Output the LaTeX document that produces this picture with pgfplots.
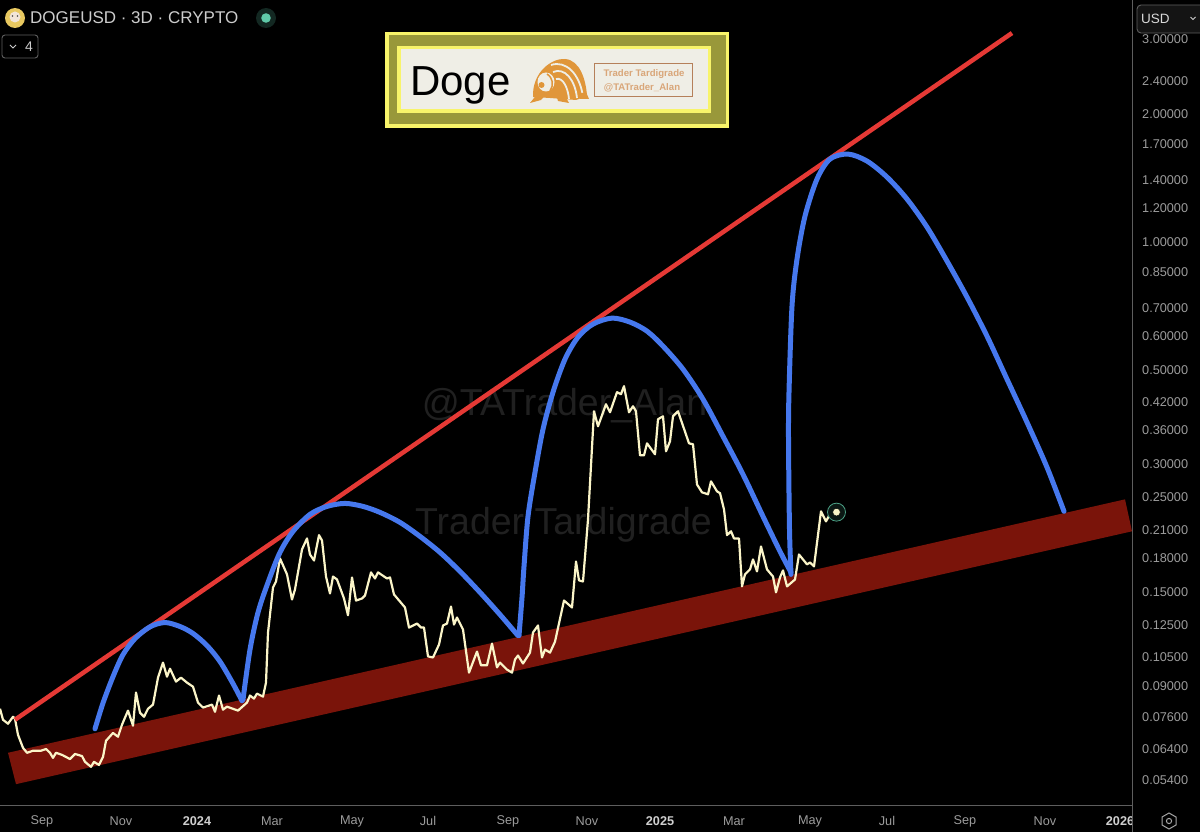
\documentclass[border=0pt]{standalone}
\usepackage{fontspec}
\setmainfont{Liberation Sans}
\usepackage{pgfplots}
\pgfplotsset{compat=1.18}
\definecolor{band}{HTML}{7A140A}
\definecolor{redl}{HTML}{E53935}
\definecolor{bluel}{HTML}{4678EE}
\definecolor{cream}{HTML}{FBF5C8}
\definecolor{tick}{HTML}{9C9C9C}
\definecolor{tickb}{HTML}{CFCFCF}
\definecolor{spine}{HTML}{5E5E5E}
\definecolor{wm}{HTML}{202020}
\definecolor{ylw}{HTML}{F8F46A}
\definecolor{olive}{HTML}{99983A}
\definecolor{paper}{HTML}{EFEEE6}
\definecolor{tard}{HTML}{E0963A}
\definecolor{tardb}{HTML}{B5805A}
\definecolor{tardt}{HTML}{D9A679}
\definecolor{teal}{HTML}{5FC9A8}
\definecolor{coin}{HTML}{E8C860}
\newcommand{\fs}[1]{\fontsize{#1}{#1}\selectfont}
\begin{document}
\begin{tikzpicture}[x=1pt,y=-1pt]
\useasboundingbox (0,0) rectangle (1200,832);
\fill[black] (0,0) rectangle (1200,832);
% watermarks
\node[text=wm,anchor=center,inner sep=0] at (564.5,406) {\fs{37.5}@TATrader\_Alan};
\node[text=wm,anchor=center,inner sep=0] at (563.5,525) {\fs{37.5}Trader Tardigrade};
\begin{axis}[
  at={(0pt,-805pt)},anchor=south west,
  scale only axis,width=1132pt,height=805pt,
  xmin=0,xmax=1132,ymin=0.04715,ymax=3.719,
  ymode=log,
  axis x line*=bottom,axis y line*=right,
  axis line style={-,color=spine,line width=1pt},
  major tick length=0pt,minor tick length=0pt,
  xtick={42,121,197,272,352,428,508,587,660,734,810,887,965,1045,1120},
  xticklabels={Sep,Nov,{\textcolor{tickb}{\bfseries 2024}},Mar,May,Jul,Sep,Nov,{\textcolor{tickb}{\bfseries 2025}},Mar,May,Jul,Sep,Nov,{\textcolor{tickb}{\bfseries 2026}}},
  ytick={0.054,0.064,0.076,0.09,0.105,0.125,0.15,0.18,0.21,0.25,0.3,0.36,0.42,0.5,0.6,0.7,0.85,1,1.2,1.4,1.7,2,2.4,3},
  yticklabels={0.05400,0.06400,0.07600,0.09000,0.10500,0.12500,0.15000,0.18000,0.21000,0.25000,0.30000,0.36000,0.42000,0.50000,0.60000,0.70000,0.85000,1.00000,1.20000,1.40000,1.70000,2.00000,2.40000,3.00000},
  yticklabel pos=right,
  x tick label style={text=tick,font=\fs{12.7},inner sep=0pt,anchor=center,yshift=-16pt},
  y tick label style={text=tick,font=\fs{12.7},inner sep=0pt,anchor=west,xshift=10pt},
  clip=true,
  axis on top=false,
]
% support band
\addplot[fill=band,draw=none] coordinates {(8,0.0626)(16,0.0528)(1132,0.2082)(1125,0.2476)} -- cycle;
% price
\addplot[cream,line width=2.2pt,line join=round] coordinates {
(0,.0795)(3,.0749)(8,.0733)(13,.0761)(15,.0753)(18,.0690)(23,.0643)(27,.0626)(33,.0633)(41,.0633)(46,.0639)(50,.0626)(53,.0609)(56,.0626)(62,.0619)(70,.0605)(75,.0622)(82,.0615)(85,.0596)(91,.0580)(94,.0596)(99,.0586)(103,.0612)(106,.0668)(113,.0697)(118,.0683)(122,.0729)(128,.0787)(133,.0725)(136,.0868)(140,.0778)(144,.0761)(148,.0795)(153,.0813)(158,.0941)(163,.1021)(167,.0946)(170,.0988)(176,.0921)(181,.0941)(187,.0916)(193,.0896)(198,.0822)(203,.0800)(212,.0813)(215,.0782)(219,.0854)(223,.0791)(227,.0804)(238,.0787)(247,.0822)(250,.0854)(254,.0840)(257,.0863)(263,.0849)(266,.0916)(268,.1202)(273,.1535)(276,.1586)(280,.1797)(287,.1648)(292,.1438)(295,.1519)(302,.1887)(307,.2003)(310,.1836)(314,.1777)(319,.2039)(322,.1981)(326,.1629)(330,.1486)(333,.1629)(337,.1603)(344,.1446)(348,.1320)(352,.1621)(356,.1430)(362,.1446)(365,.1470)(371,.1666)(375,.1612)(378,.1666)(387,.1612)(390,.1621)(394,.1478)(405,.1377)(409,.1235)(417,.1262)(421,.1235)(424,.1235)(428,.1056)(433,.1050)(439,.1126)(443,.1249)(447,.1262)(451,.1384)(454,.1255)(457,.1304)(463,.1222)(469,.0967)(477,.1084)(481,.1006)(487,.1006)(492,.1132)(497,.0995)(500,.1021)(507,.0983)(512,.0967)(515,.1038)(518,.1061)(523,.1016)(530,.1078)(533,.1202)(538,.1249)(542,.1050)(545,.1096)(550,.1078)(555,.1144)(564,.1430)(572,.1377)(576,.1767)(579,.1595)(583,.1586)(588,.2221)(594,.3993)(598,.3681)(606,.4148)(610,.3972)(617,.4429)(621,.4381)(624,.4575)(629,.3972)(633,.4103)(636,.3993)(640,.3144)(644,.3144)(647,.3356)(655,.3162)(658,.3824)(663,.3887)(666,.3214)(670,.3393)(673,.3887)(678,.3993)(689,.3356)(693,.3338)(697,.2684)(702,.2572)(708,.2545)(711,.2730)(717,.2586)(720,.2560)(724,.2345)(727,.2039)(731,.2082)(734,.2003)(739,.2003)(742,.1544)(745,.1648)(750,.1693)(753,.1787)(757,.1675)(761,.1918)(767,.1693)(773,.1629)(776,.1495)(780,.1621)(783,.1684)(787,.1544)(795,.1603)(799,.1836)(807,.1740)(810,.1758)(814,.1721)(821,.2320)(826,.2197)(832,.2332)(837,.2320)};
% resistance line
\addplot[redl,line width=4.5pt] coordinates {(15,.0749)(1012,3.109)};
% arcs
\addplot[bluel,line width=5pt,smooth,line cap=round] coordinates {(95,.0713)(103,.0820)(113,.0946)(123,.1066)(135,.1163)(150,.1240)(165,.1269)(180,.1242)(193,.1196)(207,.1120)(220,.1027)(233,.0911)(242,.0830)};
\addplot[bluel,line width=5pt,smooth,line cap=round] coordinates {(243,.0835)(250,.1096)(258,.1340)(268,.1577)(280,.1857)(293,.2081)(310,.2282)(327,.2383)(345,.2422)(363,.2383)(380,.2307)(400,.2185)(420,.2025)(440,.1857)(460,.1675)(480,.1495)(500,.1325)(518,.1182)};
\addplot[bluel,line width=5pt,smooth,line cap=round] coordinates {(519,.1182)(522,.1454)(524,.1721)(528,.2257)(535,.2867)(543,.3622)(553,.4429)(565,.5298)(578,.5970)(593,.6408)(612,.6620)(630,.6478)(647,.6168)(663,.5686)(683,.5018)(703,.4263)(723,.3486)(743,.2835)(763,.2257)(780,.1867)(791,.1666)};
\addplot[bluel,line width=5pt,smooth,line cap=round] coordinates {(791,.1648)(789.5,.2104)(788.5,.3430)(789,.4429)(792,.7065)(797,.9118)(805,1.1516)(817,1.4078)(830,1.5693)(848,1.6121)(867,1.5520)(887,1.4230)(907,1.2629)(927,1.0848)(947,.9020)(967,.7419)(987,.6003)(1007,.4752)(1027,.3762)(1047,.2946)(1064,.2320)};
% last price marker
\addplot[only marks,mark=*,mark size=9pt,mark options={fill=teal!12!black,draw=teal!80!black,line width=0.8pt}] coordinates {(836.5,.2310)};
\addplot[only marks,mark=*,mark size=3.8pt,mark options={fill=cream,draw=none}] coordinates {(836.5,.2310)};
\end{axis}
% cut of the time axis at the price scale
\fill[black] (1132.6,806) rectangle (1200,832);
\draw[spine,line width=1pt] (1132,0) -- (1132,832);
% header
\fill[coin] (15,18) circle (10);
\fill[white!80!brown] (15,17) circle (5.5);
\fill[black!70] (12.5,16) circle (0.9) (17.5,16) circle (0.9);
\node[anchor=west,inner sep=0,text=white!80!black] at (30,18) {\fs{17}DOGEUSD · 3D · CRYPTO};
\fill[teal!20!black] (266,18) circle (10);
\fill[teal] (266,18) circle (4.8);
\draw[spine,rounded corners=3pt,line width=0.9pt] (2,35) rectangle (38,58);
\draw[white!80!black,line width=1pt] (10,45) -- (13,48) -- (16,45);
\node[anchor=center,inner sep=0,text=white!80!black] at (29,46.5) {\fs{14}4};
% currency box
\draw[fill=black!92!white,draw=spine,rounded corners=4pt,line width=0.9pt] (1137,5) rectangle (1205,33);
\node[anchor=west,inner sep=0,text=white!85!black] at (1141,19) {\fs{13.5}USD};
\draw[white!80!black,line width=1pt] (1190.5,17) -- (1193,19.5) -- (1195.5,17);
% settings icon
\draw[white!65!black,line width=1pt] (1169,813) -- (1176,817) -- (1176,825) -- (1169,829) -- (1162,825) -- (1162,817) -- cycle;
\draw[white!65!black,line width=1pt] (1169,821) circle (2.6);
% title box
\fill[ylw] (385,32) rectangle (729,128);
\fill[olive] (388.5,35.5) rectangle (725.5,124.5);
\fill[ylw] (397,46) rectangle (711,113);
\fill[paper] (400.5,49.5) rectangle (707.5,109.5);
\node[anchor=base west,inner sep=0,text=black] at (410,96) {\fs{42}Doge};
% tardigrade mark
\fill[tard] (533,97) .. controls (532,72) and (552,58) .. (565,59) .. controls (580,60) and (586,80) .. (587,96) -- (576,100) -- (550,98) -- cycle;
\draw[paper,line width=1.8pt] (551,65) .. controls (566,60) and (580,74) .. (583,97);
\draw[paper,line width=1.8pt] (553,72) .. controls (565,67) and (575,80) .. (577,98);
\draw[paper,line width=1.8pt] (556,79) .. controls (563,77) and (568,88) .. (569,99);
\fill[paper] (546,82) ellipse (8.5 and 9.5);
\draw[tard,line width=1.5pt] (547,74) .. controls (553,78) and (554,85) .. (550,91);
\fill[tard] (541.5,85) circle (3);
\fill[tard] (530,103) -- (538,93) -- (548,92) -- (541,100) -- cycle;
\fill[tard] (556,94) -- (564,94) -- (569,103) -- (558,101) -- cycle;
\fill[tard] (578,94) -- (586,92) -- (589,99) -- (580,99) -- cycle;
\draw[tardb,line width=1pt] (594,64) rectangle (692,97);
\node[anchor=center,inner sep=0,text=tardt] at (644,74) {\fs{9.6}\bfseries Trader Tardigrade};
\node[anchor=center,inner sep=0,text=tardt] at (642,88) {\fs{9.6}\bfseries @TATrader\_Alan};
\end{tikzpicture}
\end{document}
